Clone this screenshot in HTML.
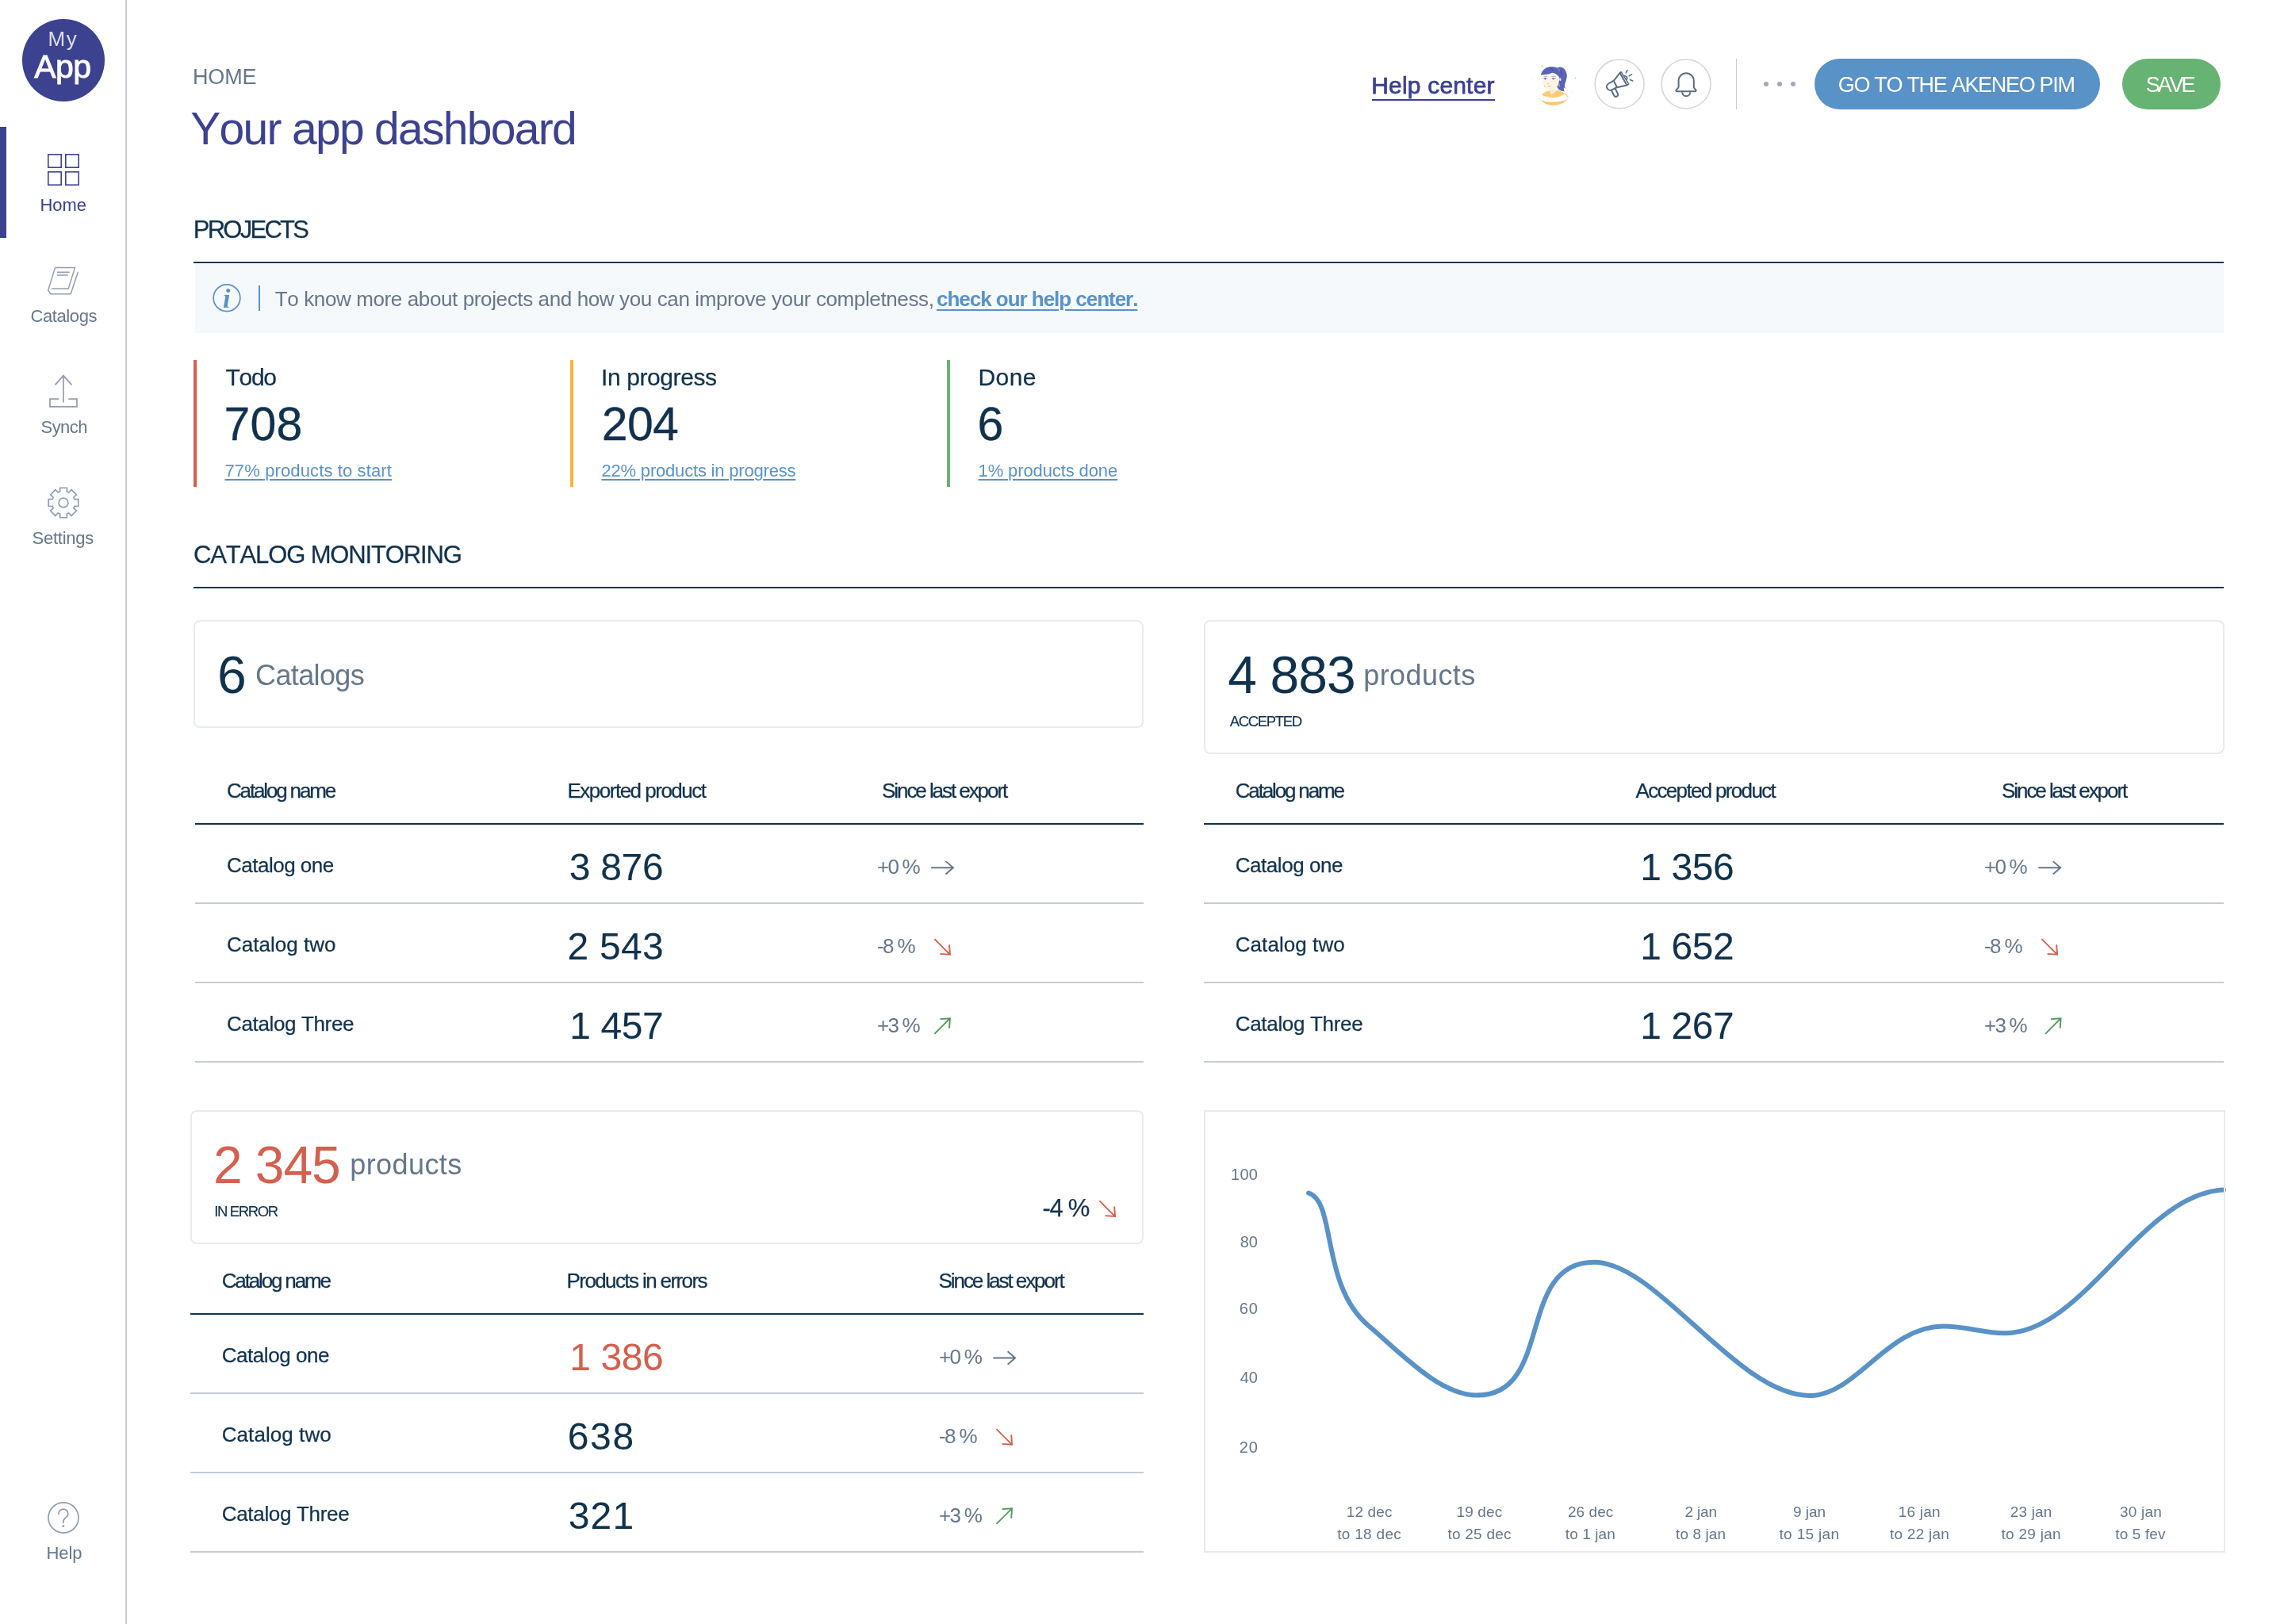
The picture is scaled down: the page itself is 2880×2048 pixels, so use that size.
<!DOCTYPE html>
<html lang="en"><head><meta charset="utf-8"><title>Your app dashboard</title>
<style>
html,body{margin:0;padding:0;background:#fff}
body{width:2880px;height:2048px;position:relative;overflow:hidden;font-family:"Liberation Sans", sans-serif;will-change:transform;}
body>div,body>svg,body>a,body>h1,body>h2{position:absolute;margin:0;font-weight:400}
.t{white-space:pre;font-kerning:none;}
a{color:inherit}
</style></head>
<body>
<svg style="left:0;top:0;overflow:visible" width="10" height="10" fill="none"><path d="M1650 1504.5C1685 1515 1665 1620 1725 1671.25C1765 1705 1815 1759.5 1862.5 1759.5C1960 1759.5 1911 1591.75 2010 1591.75C2090 1591.75 2190 1760 2282.5 1760C2340 1760 2380 1672.5 2450 1672.5C2480 1672.5 2500 1681.25 2527.5 1681.25C2628 1681.25 2700 1505 2804 1500.6" stroke="#5992c7" stroke-width="6" stroke-linecap="round" stroke-linejoin="round"/></svg>
<div style="left:158.4px;top:0px;width:1.6px;height:2048px;background:#c7cbd4;"></div>
<div style="left:0px;top:160px;width:8px;height:140px;background:#3c4190;"></div>
<div style="left:28px;top:24px;width:104px;height:104px;background:#3c4190;border-radius:50%"></div>
<div style="left:244px;top:330px;width:2560px;height:2px;background:#11324d;"></div>
<div style="left:246px;top:333px;width:2558px;height:87px;background:#f5f9fc;"></div>
<div style="left:326.25px;top:360px;width:1.6px;height:32px;background:#5992c7;"></div>
<div style="left:244px;top:740px;width:2560px;height:2px;background:#11324d;"></div>
<div style="left:244px;top:454px;width:4px;height:160px;background:#d4604f;"></div>
<div style="left:719px;top:454px;width:4px;height:160px;background:#f9b53f;"></div>
<div style="left:1194px;top:454px;width:4px;height:160px;background:#67b373;"></div>
<div style="left:244px;top:782px;width:1194px;height:132px;border:2px solid #e8ebee;border-radius:8px"></div>
<div style="left:1518px;top:782px;width:1283px;height:165px;border:2px solid #e8ebee;border-radius:8px"></div>
<div style="left:240px;top:1400px;width:1198px;height:165px;border:2px solid #e8ebee;border-radius:8px"></div>
<div style="left:1518px;top:1400px;width:1284px;height:554px;border:2px solid #e8ebee;border-radius:0px"></div>
<div style="left:246px;top:1038px;width:1196px;height:2px;background:#11324d;"></div>
<div style="left:246px;top:1138px;width:1196px;height:2px;background:#c7cbd4;"></div>
<div style="left:246px;top:1238px;width:1196px;height:2px;background:#c7cbd4;"></div>
<div style="left:246px;top:1338px;width:1196px;height:2px;background:#c7cbd4;"></div>
<div style="left:1518px;top:1038px;width:1286px;height:2px;background:#11324d;"></div>
<div style="left:1518px;top:1138px;width:1286px;height:2px;background:#c7cbd4;"></div>
<div style="left:1518px;top:1238px;width:1286px;height:2px;background:#c7cbd4;"></div>
<div style="left:1518px;top:1338px;width:1286px;height:2px;background:#c7cbd4;"></div>
<div style="left:240px;top:1656px;width:1202px;height:2px;background:#11324d;"></div>
<div style="left:240px;top:1756px;width:1202px;height:2px;background:#c7cbd4;"></div>
<div style="left:240px;top:1856px;width:1202px;height:2px;background:#c7cbd4;"></div>
<div style="left:240px;top:1956px;width:1202px;height:2px;background:#c7cbd4;"></div>
<div style="left:2288px;top:74px;width:360px;height:64px;background:#5992c7;border-radius:32px"></div>
<div style="left:2676px;top:74px;width:124px;height:64px;background:#67b373;border-radius:32px"></div>
<div style="left:2188.5px;top:74px;width:1.6px;height:64px;background:#c7cbd4;"></div>
<div style="left:2224px;top:103px;width:6px;height:6px;background:#a1a9b7;border-radius:50%"></div>
<div style="left:2241px;top:103px;width:6px;height:6px;background:#a1a9b7;border-radius:50%"></div>
<div style="left:2258px;top:103px;width:6px;height:6px;background:#a1a9b7;border-radius:50%"></div>
<div style="left:1730px;top:125px;width:155px;height:1.6px;background:#3c4190;"></div>
<svg style="left:0;top:0;overflow:visible" width="10" height="10" fill="none" stroke="#d3d8e0" stroke-width="1.7"><circle cx="2042.1" cy="105.9" r="30.9"/><circle cx="2126.1" cy="105.9" r="30.9"/></svg>
<svg style="left:60px;top:194px;overflow:visible" width="40" height="40" viewBox="0 0 40 40" fill="none" stroke="#3c4190" stroke-width="1.6"><rect x="0.8" y="0.8" width="16.4" height="16.4"/><rect x="0.8" y="22.8" width="16.4" height="16.4"/><rect x="22.8" y="0.8" width="16.4" height="16.4"/><rect x="22.8" y="22.8" width="16.4" height="16.4"/></svg>
<svg style="left:0px;top:0px;overflow:visible" width="160" height="10" viewBox="0 0 160 10" fill="none" stroke="#939db0" stroke-width="1.5" stroke-linejoin="miter"><path d="M69.5 337.6H94.5L86.2 364.1H65.1M69.5 337.6L60.7 366.1L63.9 370.7H89.2L98.3 343.2M72 343.2H87.7M72 346.9H85.8"/></svg>
<svg style="left:0px;top:0px;overflow:visible" width="160" height="10" viewBox="0 0 160 10" fill="none" stroke="#939db0" stroke-width="1.7"><path d="M69.5 485.4L79.9 473.6L90.5 485.4M79.9 474V507.5M74.1 503.1H63V512.8H97V503.1H86.2"/></svg>
<svg style="left:0px;top:0px;overflow:visible" width="160" height="10" viewBox="0 0 160 10" fill="none" stroke="#939db0" stroke-width="1.7"><path d="M75.69 620.05L75.51 615.23L84.49 615.23L84.31 620.05L86.81 621.09L90.09 617.55L96.45 623.91L92.91 627.19L93.95 629.69L98.77 629.51L98.77 638.49L93.95 638.31L92.91 640.81L96.45 644.09L90.09 650.45L86.81 646.91L84.31 647.95L84.49 652.77L75.51 652.77L75.69 647.95L73.19 646.91L69.91 650.45L63.55 644.09L67.09 640.81L66.05 638.31L61.23 638.49L61.23 629.51L66.05 629.69L67.09 627.19L63.55 623.91L69.91 617.55L73.19 621.09Z" stroke-linejoin="miter"/><circle cx="80" cy="634" r="5.9"/></svg>
<svg style="left:0px;top:0px;overflow:visible" width="160" height="10" viewBox="0 0 160 10" fill="none" stroke="#939db0" stroke-width="1.7"><circle cx="80" cy="1914" r="19.05"/><path d="M73.9 1909.9V1909.2a6 6 0 0 1 12 0c0 3.200-2.600 4.400-4.200 5.800c-1.300 1.100-1.800 2.200-1.800 3.600v2.400"/><circle cx="79.9" cy="1924.5" r="1.4" fill="#939db0" stroke="none"/></svg>
<svg style="left:0px;top:0px;overflow:visible" width="400" height="10" viewBox="0 0 400 10" fill="none" ><circle cx="286" cy="375.8" r="16.85" stroke="#5992c7" stroke-width="1.75"/></svg>
<div class="t" style="left:281px;top:360px;font:italic bold 34px/34px 'Liberation Serif',serif;color:#5992c7">i</div>
<svg style="left:0px;top:0px;overflow:visible" width="10" height="10" viewBox="0 0 10 10" fill="none" stroke="#67768a" stroke-width="1.9"><g transform="translate(1188.1 1094.3) rotate(0)"><path d="M-13.875 0H13.875M4.375 -8.2L13.875 0L4.375 8.2"/></g></svg>
<svg style="left:0px;top:0px;overflow:visible" width="10" height="10" viewBox="0 0 10 10" fill="none" stroke="#d4604f" stroke-width="1.9"><g transform="translate(1188.1 1194) rotate(45)"><path d="M-13.875 0H13.875M4.375 -8.2L13.875 0L4.375 8.2"/></g></svg>
<svg style="left:0px;top:0px;overflow:visible" width="10" height="10" viewBox="0 0 10 10" fill="none" stroke="#4f9a5a" stroke-width="1.9"><g transform="translate(1188.1 1294) rotate(-45)"><path d="M-13.875 0H13.875M4.375 -8.2L13.875 0L4.375 8.2"/></g></svg>
<svg style="left:0px;top:0px;overflow:visible" width="10" height="10" viewBox="0 0 10 10" fill="none" stroke="#67768a" stroke-width="1.9"><g transform="translate(2584.3 1094.3) rotate(0)"><path d="M-13.875 0H13.875M4.375 -8.2L13.875 0L4.375 8.2"/></g></svg>
<svg style="left:0px;top:0px;overflow:visible" width="10" height="10" viewBox="0 0 10 10" fill="none" stroke="#d4604f" stroke-width="1.9"><g transform="translate(2584.3 1194) rotate(45)"><path d="M-13.875 0H13.875M4.375 -8.2L13.875 0L4.375 8.2"/></g></svg>
<svg style="left:0px;top:0px;overflow:visible" width="10" height="10" viewBox="0 0 10 10" fill="none" stroke="#4f9a5a" stroke-width="1.9"><g transform="translate(2588.8 1294) rotate(-45)"><path d="M-13.875 0H13.875M4.375 -8.2L13.875 0L4.375 8.2"/></g></svg>
<svg style="left:0px;top:0px;overflow:visible" width="10" height="10" viewBox="0 0 10 10" fill="none" stroke="#67768a" stroke-width="1.9"><g transform="translate(1266.25 1712.5) rotate(0)"><path d="M-13.875 0H13.875M4.375 -8.2L13.875 0L4.375 8.2"/></g></svg>
<svg style="left:0px;top:0px;overflow:visible" width="10" height="10" viewBox="0 0 10 10" fill="none" stroke="#d4604f" stroke-width="1.9"><g transform="translate(1266.25 1812) rotate(45)"><path d="M-13.875 0H13.875M4.375 -8.2L13.875 0L4.375 8.2"/></g></svg>
<svg style="left:0px;top:0px;overflow:visible" width="10" height="10" viewBox="0 0 10 10" fill="none" stroke="#4f9a5a" stroke-width="1.9"><g transform="translate(1266.25 1912) rotate(-45)"><path d="M-13.875 0H13.875M4.375 -8.2L13.875 0L4.375 8.2"/></g></svg>
<svg style="left:0px;top:0px;overflow:visible" width="10" height="10" viewBox="0 0 10 10" fill="none" stroke="#d4604f" stroke-width="1.9"><g transform="translate(1396.25 1524.25) rotate(45)"><path d="M-13.875 0H13.875M4.375 -8.2L13.875 0L4.375 8.2"/></g></svg>
<svg style="left:0px;top:0px;overflow:visible" width="10" height="10" viewBox="0 0 10 10" fill="none" stroke="#5b6b82" stroke-width="2"><path d="M2116.6 109.8V101.8a9.6 9.6 0 0 1 19.200 0V109.800c0 1.900 2.900 3.100 2.900 4.300c0 .8-.6 1.200-1.400 1.200H2114.700c-.8 0-1.400-.4-1.400-1.200c0-1.200 3.300-2.400 3.300-4.300z" stroke-linejoin="round"/><path d="M2121.2 116.2a5 5 0 0 0 10 0"/></svg>
<svg style="left:0px;top:0px;overflow:visible" width="10" height="10" viewBox="0 0 10 10" fill="none" stroke="#5b6b82" stroke-width="2"><g stroke-linecap="round" stroke-linejoin="round">
<path d="M2034.8 101.800L2042.600 92L2051.400 107.400L2039 110.200z"/>
<path d="M2034.800 101.800l-6.600 3.700a4.400 4.400 0 0 0 4.500 7.600l6.300-2.900"/>
<path d="M2042.600 92l1.600-1.300l9.600 15.500l-2.400 1.200" stroke-width="1.5"/>
<path d="M2031.900 113.800l3.300 6.600a2.600 2.600 0 0 0 4.700-2.300l-3.300-6.600"/>
<path d="M2048.200 96a2.800 2.800 0 0 1 2.800 4.600" stroke-width="1.7"/>
<path d="M2050.400 91.700l1.500-3.100M2054.200 95.700l3.400-1.800M2055.400 100.600l3.300 1.400" stroke-width="1.6"/>
</g></svg>
<svg style="left:0px;top:0px;overflow:visible" width="10" height="10" viewBox="0 0 10 10" fill="none" ><path d="M1945.800 93V106.700C1946 110 1949.500 113.200 1952.500 113.200H1957.500C1961.500 112.500 1965.600 107.500 1965.600 103V93Z" fill="#fef4e4"/>
<path d="M1954.400 112.500H1962.600L1962.300 114C1960.500 116.500 1958 118.500 1956 119C1955 118.800 1954.400 118 1954.400 117Z" fill="#fdebd0"/>
<path d="M1944 119.400C1946.500 116.800 1950 115 1953.600 114.200L1954.400 114C1954.400 116 1954.800 118.500 1956 119C1958.500 118.300 1961 116 1962.700 113.800C1967 114.500 1970.800 116 1973.300 117.900L1971.400 119.400C1967.500 121.800 1962.500 122.900 1957.600 122.900C1952.600 122.900 1947.500 121.700 1944 119.400Z" fill="#fbcb73"/>
<path d="M1941 122.900C1944 128.500 1950.500 132.700 1957.600 132.700C1966 132.700 1974 129.500 1977.100 123.700C1973.500 127.200 1966 128.800 1957.600 128.800C1950 128.800 1945 127.300 1941.300 124.800L1941 122.900Z" fill="#fac565"/>
<path d="M1973.300 117.900C1975.500 119.500 1977 121.500 1977.100 123.700" stroke="#f7c469" stroke-width="1.300" opacity=".65"/>
<path d="M1942.800 94.500C1943.500 91.500 1945.500 88 1948.500 86.200C1952 84.200 1957 84 1961 84.800L1964 85.600C1965.500 84.300 1968 84.200 1970 85.200C1973.500 87 1975.800 91 1975.800 95.500C1975.800 100 1973.500 104 1973 107.500C1972.900 109 1973.200 110.500 1973.900 111.600C1973 111.400 1972.300 110.900 1971.800 110.300C1971.800 112.300 1972 113.800 1972.700 115.400C1970.500 115 1968.500 114.600 1966.500 113.600C1965 112.600 1964 111.200 1963.300 109.600C1964.800 107.600 1965.600 105.500 1965.600 103.500L1966.600 99.600C1966.300 97.500 1965.500 96.200 1964 95C1962 93.300 1959.800 92.200 1957.600 91.800C1953 93.600 1948 94.400 1942.800 94.500Z" fill="#5c61b8"/>
<ellipse cx="1967.300" cy="100.200" rx="1" ry="1.900" fill="#fdebd0"/>
<path d="M1963.100 85.300C1964.800 86.300 1966 87.800 1966.600 89.400" stroke="#6fcfc9" stroke-width=".9"/>
<path d="M1967.600 89.600C1968.800 91.300 1969.600 93.500 1969.800 95.800M1953.600 85.100C1955.800 86 1957.800 87.300 1959.200 89" stroke="#3d4494" stroke-width=".8"/>
<ellipse cx="1948.800" cy="100" rx="2.400" ry="1.300" fill="#fff"/><ellipse cx="1959.600" cy="100" rx="2.600" ry="1.300" fill="#fff"/>
<circle cx="1948.400" cy="99.400" r="1.100" fill="#5b5fb9"/><circle cx="1958.600" cy="99.400" r="1.100" fill="#5b5fb9"/>
<path d="M1946.300 99C1947.500 98.200 1950 98.200 1951.300 99.200M1956.800 99C1958 98.200 1961 98.200 1962.300 99.200" stroke="#5b5fb9" stroke-width=".6"/>
<path d="M1946.500 96.400H1950.600M1956.300 96.500L1962 96.200" stroke="#9d9ed9" stroke-width=".7"/>
<path d="M1950.900 105.400H1953.400" stroke="#cdbcd6" stroke-width=".8"/>
<path d="M1950.100 108.300C1952 109.600 1955 109.900 1956.800 108.800C1955 108 1952 107.800 1950.100 108.300Z" fill="#f9c96b"/>
<path d="M1966 104.400L1967.200 109.500L1965.200 109ZM1947.400 107L1947.900 109.600L1947 109.600Z" fill="#6fcfc9"/>
<path d="M1944.4 81.7L1944.8480000000002 82.852L1946.0 83.3L1944.8480000000002 83.74799999999999L1944.4 84.89999999999999L1943.952 83.74799999999999L1942.8000000000002 83.3L1943.952 82.852Z" fill="#7fd6d0" opacity="1"/><path d="M1986.7 96.89999999999999L1987.092 97.908L1988.1000000000001 98.3L1987.092 98.692L1986.7 99.7L1986.308 98.692L1985.3 98.3L1986.308 97.908Z" fill="#7fd6d0" opacity="1"/><path d="M1932.2 98.3L1932.48 99.02L1933.2 99.3L1932.48 99.58L1932.2 100.3L1931.92 99.58L1931.2 99.3L1931.92 99.02Z" fill="#7fd6d0" opacity="0.35"/><path d="M1939.3 109.8L1939.552 110.44800000000001L1940.2 110.7L1939.552 110.952L1939.3 111.60000000000001L1939.048 110.952L1938.3999999999999 110.7L1939.048 110.44800000000001Z" fill="#7fd6d0" opacity="0.35"/><path d="M1982 115.6L1982.28 116.32L1983 116.6L1982.28 116.88L1982 117.6L1981.72 116.88L1981 116.6L1981.72 116.32Z" fill="#7fd6d0" opacity="0.3"/></svg>
<div class="t" style="left:60.6px;top:36px;font-size:26px;line-height:26px;color:rgba(255,255,255,.82);letter-spacing:1.442px;">My</div>
<div class="t" style="left:43.2px;top:64px;font-size:41px;line-height:41px;color:#ffffff;letter-spacing:-0.574px;-webkit-text-stroke:0.9px #fff;">App</div>
<div class="t" style="left:50.6px;top:248px;font-size:22px;line-height:22px;color:#3c4190;letter-spacing:-0.116px;">Home</div>
<div class="t" style="left:38.4px;top:388px;font-size:22px;line-height:22px;color:#67768a;letter-spacing:-0.39px;">Catalogs</div>
<div class="t" style="left:51.6px;top:528px;font-size:22px;line-height:22px;color:#67768a;letter-spacing:-0.577px;">Synch</div>
<div class="t" style="left:40.6px;top:668px;font-size:22px;line-height:22px;color:#67768a;letter-spacing:-0.256px;">Settings</div>
<div class="t" style="left:58.5px;top:1948px;font-size:22px;line-height:22px;color:#67768a;letter-spacing:-0.07px;">Help</div>
<div class="t" style="left:243px;top:84px;font-size:27px;line-height:27px;color:#67768a;letter-spacing:-0.164px;">HOME</div>
<h1 class="t" style="left:240.25px;top:134px;font-size:57px;line-height:57px;color:#3c4190;letter-spacing:-1.712px;">Your app dashboard</h1>
<a class="t" style="left:1729.25px;top:93px;font-size:30px;line-height:30px;color:#3c4190;letter-spacing:0.183px;-webkit-text-stroke:0.75px #3c4190;">Help center</a>
<div class="t" style="left:2317.75px;top:94px;font-size:27px;line-height:27px;color:#ffffff;letter-spacing:-1.305px;">GO TO THE AKENEO PIM</div>
<div class="t" style="left:2705.75px;top:94px;font-size:27px;line-height:27px;color:#ffffff;letter-spacing:-3.092px;">SAVE</div>
<h2 class="t" style="left:243.75px;top:274px;font-size:31px;line-height:31px;color:#11324d;letter-spacing:-2.74px;-webkit-text-stroke:0.25px #11324d;">PROJECTS</h2>
<div class="t" style="left:346.75px;top:364px;font-size:26px;line-height:26px;color:#67768a;letter-spacing:-0.38px;">To know more about projects and how you can improve your completness,</div>
<a class="t" style="left:1181px;top:364px;font-size:26px;line-height:26px;color:#5992c7;font-weight:700;letter-spacing:-1.027px;text-decoration:underline;text-decoration-thickness:1.7px;text-underline-offset:3.6px;">check our help center.</a>
<div class="t" style="left:284.5px;top:461px;font-size:30px;line-height:30px;color:#11324d;letter-spacing:-1.315px;-webkit-text-stroke:0.25px #11324d;">Todo</div>
<div class="t" style="left:282.5px;top:506px;font-size:59px;line-height:59px;color:#11324d;letter-spacing:0.187px;-webkit-text-stroke:0.3px #11324d;">708</div>
<a class="t" style="left:283.5px;top:583px;font-size:22px;line-height:22px;color:#5992c7;letter-spacing:0.124px;text-decoration:underline;text-decoration-thickness:1.5px;text-underline-offset:3px;">77% products to start</a>
<div class="t" style="left:758px;top:461px;font-size:30px;line-height:30px;color:#11324d;letter-spacing:-0.407px;-webkit-text-stroke:0.25px #11324d;">In progress</div>
<div class="t" style="left:758.75px;top:506px;font-size:59px;line-height:59px;color:#11324d;letter-spacing:-0.688px;-webkit-text-stroke:0.3px #11324d;">204</div>
<a class="t" style="left:758.5px;top:583px;font-size:22px;line-height:22px;color:#5992c7;letter-spacing:-0.194px;text-decoration:underline;text-decoration-thickness:1.5px;text-underline-offset:3px;">22% products in progress</a>
<div class="t" style="left:1233.5px;top:461px;font-size:30px;line-height:30px;color:#11324d;letter-spacing:0.405px;-webkit-text-stroke:0.25px #11324d;">Done</div>
<div class="t" style="left:1232.5px;top:506px;font-size:59px;line-height:59px;color:#11324d;-webkit-text-stroke:0.3px #11324d;">6</div>
<a class="t" style="left:1233.5px;top:583px;font-size:22px;line-height:22px;color:#5992c7;letter-spacing:-0.107px;text-decoration:underline;text-decoration-thickness:1.5px;text-underline-offset:3px;">1% products done</a>
<h2 class="t" style="left:244px;top:684px;font-size:31px;line-height:31px;color:#11324d;letter-spacing:-1.14px;-webkit-text-stroke:0.25px #11324d;">CATALOG MONITORING</h2>
<div class="t" style="left:274px;top:818px;font-size:66px;line-height:66px;color:#11324d;">6</div>
<div class="t" style="left:322px;top:834px;font-size:36px;line-height:36px;color:#67768a;letter-spacing:-0.619px;">Catalogs</div>
<div class="t" style="left:1548.25px;top:818px;font-size:66px;line-height:66px;color:#11324d;letter-spacing:-0.926px;">4 883</div>
<div class="t" style="left:1719.25px;top:834px;font-size:36px;line-height:36px;color:#67768a;letter-spacing:0.418px;">products</div>
<div class="t" style="left:1550.75px;top:901px;font-size:18.5px;line-height:18.5px;color:#11324d;letter-spacing:-1.34px;-webkit-text-stroke:0.15px #11324d;">ACCEPTED</div>
<div class="t" style="left:269px;top:1436px;font-size:66px;line-height:66px;color:#d4604f;letter-spacing:-1.114px;">2 345</div>
<div class="t" style="left:441.25px;top:1451px;font-size:36px;line-height:36px;color:#67768a;letter-spacing:0.418px;">products</div>
<div class="t" style="left:270.25px;top:1519px;font-size:18.5px;line-height:18.5px;color:#11324d;letter-spacing:-1.37px;-webkit-text-stroke:0.15px #11324d;">IN ERROR</div>
<div class="t" style="left:1314.5px;top:1508px;font-size:31px;line-height:31px;color:#11324d;letter-spacing:-1.309px;-webkit-text-stroke:0.25px #11324d;">-4 %</div>
<div class="t" style="left:286px;top:984px;font-size:26px;line-height:26px;color:#11324d;letter-spacing:-2.152px;-webkit-text-stroke:0.25px #11324d;">Catalog name</div>
<div class="t" style="left:715.5px;top:984px;font-size:26px;line-height:26px;color:#11324d;letter-spacing:-1.502px;-webkit-text-stroke:0.25px #11324d;">Exported product</div>
<div class="t" style="left:1112px;top:984px;font-size:26px;line-height:26px;color:#11324d;letter-spacing:-2.061px;-webkit-text-stroke:0.25px #11324d;">Since last export</div>
<div class="t" style="left:286px;top:1078px;font-size:26px;line-height:26px;color:#11324d;letter-spacing:-0.501px;-webkit-text-stroke:0.25px #11324d;">Catalog one</div>
<div class="t" style="left:717.75px;top:1070px;font-size:48px;line-height:48px;color:#11324d;letter-spacing:-0.293px;-webkit-text-stroke:0.05px #11324d;">3 876</div>
<div class="t" style="left:1106px;top:1080px;font-size:26px;line-height:26px;color:#67768a;letter-spacing:-1.789px;">+0 %</div>
<div class="t" style="left:286px;top:1178px;font-size:26px;line-height:26px;color:#11324d;letter-spacing:0.016px;-webkit-text-stroke:0.25px #11324d;">Catalog two</div>
<div class="t" style="left:715.5px;top:1170px;font-size:48px;line-height:48px;color:#11324d;letter-spacing:0.27px;-webkit-text-stroke:0.05px #11324d;">2 543</div>
<div class="t" style="left:1106px;top:1180px;font-size:26px;line-height:26px;color:#67768a;letter-spacing:-1.614px;">-8 %</div>
<div class="t" style="left:286px;top:1278px;font-size:26px;line-height:26px;color:#11324d;letter-spacing:-0.358px;-webkit-text-stroke:0.25px #11324d;">Catalog Three</div>
<div class="t" style="left:718.25px;top:1270px;font-size:48px;line-height:48px;color:#11324d;letter-spacing:-0.418px;-webkit-text-stroke:0.05px #11324d;">1 457</div>
<div class="t" style="left:1106px;top:1280px;font-size:26px;line-height:26px;color:#67768a;letter-spacing:-1.789px;">+3 %</div>
<div class="t" style="left:1557.75px;top:984px;font-size:26px;line-height:26px;color:#11324d;letter-spacing:-2.152px;-webkit-text-stroke:0.25px #11324d;">Catalog name</div>
<div class="t" style="left:2062.5px;top:984px;font-size:26px;line-height:26px;color:#11324d;letter-spacing:-1.675px;-webkit-text-stroke:0.25px #11324d;">Accepted product</div>
<div class="t" style="left:2524px;top:984px;font-size:26px;line-height:26px;color:#11324d;letter-spacing:-2.061px;-webkit-text-stroke:0.25px #11324d;">Since last export</div>
<div class="t" style="left:1557.75px;top:1078px;font-size:26px;line-height:26px;color:#11324d;letter-spacing:-0.451px;-webkit-text-stroke:0.25px #11324d;">Catalog one</div>
<div class="t" style="left:2068.25px;top:1070px;font-size:48px;line-height:48px;color:#11324d;letter-spacing:-0.418px;-webkit-text-stroke:0.05px #11324d;">1 356</div>
<div class="t" style="left:2502px;top:1080px;font-size:26px;line-height:26px;color:#67768a;letter-spacing:-1.789px;">+0 %</div>
<div class="t" style="left:1557.75px;top:1178px;font-size:26px;line-height:26px;color:#11324d;letter-spacing:0.066px;-webkit-text-stroke:0.25px #11324d;">Catalog two</div>
<div class="t" style="left:2068.25px;top:1170px;font-size:48px;line-height:48px;color:#11324d;letter-spacing:-0.418px;-webkit-text-stroke:0.05px #11324d;">1 652</div>
<div class="t" style="left:2502px;top:1180px;font-size:26px;line-height:26px;color:#67768a;letter-spacing:-1.614px;">-8 %</div>
<div class="t" style="left:1557.75px;top:1278px;font-size:26px;line-height:26px;color:#11324d;letter-spacing:-0.317px;-webkit-text-stroke:0.25px #11324d;">Catalog Three</div>
<div class="t" style="left:2068.25px;top:1270px;font-size:48px;line-height:48px;color:#11324d;letter-spacing:-0.418px;-webkit-text-stroke:0.05px #11324d;">1 267</div>
<div class="t" style="left:2502px;top:1280px;font-size:26px;line-height:26px;color:#67768a;letter-spacing:-1.789px;">+3 %</div>
<div class="t" style="left:279.75px;top:1602px;font-size:26px;line-height:26px;color:#11324d;letter-spacing:-2.152px;-webkit-text-stroke:0.25px #11324d;">Catalog name</div>
<div class="t" style="left:714.6px;top:1602px;font-size:26px;line-height:26px;color:#11324d;letter-spacing:-1.605px;-webkit-text-stroke:0.25px #11324d;">Products in errors</div>
<div class="t" style="left:1183.5px;top:1602px;font-size:26px;line-height:26px;color:#11324d;letter-spacing:-2.061px;-webkit-text-stroke:0.25px #11324d;">Since last export</div>
<div class="t" style="left:279.75px;top:1696px;font-size:26px;line-height:26px;color:#11324d;letter-spacing:-0.451px;-webkit-text-stroke:0.25px #11324d;">Catalog one</div>
<div class="t" style="left:718.25px;top:1688px;font-size:48px;line-height:48px;color:#d4604f;letter-spacing:-0.418px;-webkit-text-stroke:0.05px #d4604f;">1 386</div>
<div class="t" style="left:1184px;top:1698px;font-size:26px;line-height:26px;color:#67768a;letter-spacing:-1.706px;">+0 %</div>
<div class="t" style="left:279.75px;top:1796px;font-size:26px;line-height:26px;color:#11324d;letter-spacing:0.066px;-webkit-text-stroke:0.25px #11324d;">Catalog two</div>
<div class="t" style="left:715.8px;top:1788px;font-size:48px;line-height:48px;color:#11324d;letter-spacing:1.605px;-webkit-text-stroke:0.05px #11324d;">638</div>
<div class="t" style="left:1184px;top:1798px;font-size:26px;line-height:26px;color:#67768a;letter-spacing:-1.614px;">-8 %</div>
<div class="t" style="left:279.75px;top:1896px;font-size:26px;line-height:26px;color:#11324d;letter-spacing:-0.317px;-webkit-text-stroke:0.25px #11324d;">Catalog Three</div>
<div class="t" style="left:716.8px;top:1888px;font-size:48px;line-height:48px;color:#11324d;letter-spacing:1.105px;-webkit-text-stroke:0.05px #11324d;">321</div>
<div class="t" style="left:1184px;top:1898px;font-size:26px;line-height:26px;color:#67768a;letter-spacing:-1.706px;">+3 %</div>
<div class="t" style="left:1552.1px;top:1471px;font-size:20px;line-height:20px;color:#67768a;letter-spacing:0.227px;">100</div>
<div class="t" style="left:1563.7px;top:1556px;font-size:20px;line-height:20px;color:#67768a;letter-spacing:-0.023px;">80</div>
<div class="t" style="left:1562.7px;top:1640px;font-size:20px;line-height:20px;color:#67768a;letter-spacing:0.977px;">60</div>
<div class="t" style="left:1563.7px;top:1727px;font-size:20px;line-height:20px;color:#67768a;letter-spacing:-0.023px;">40</div>
<div class="t" style="left:1562.7px;top:1815px;font-size:20px;line-height:20px;color:#67768a;letter-spacing:0.977px;">20</div>
<div class="t" style="left:1697.75px;top:1897px;font-size:19px;line-height:19px;color:#67768a;letter-spacing:0.141px;">12 dec</div>
<div class="t" style="left:1686.25px;top:1925px;font-size:19px;line-height:19px;color:#67768a;letter-spacing:0.291px;">to 18 dec</div>
<div class="t" style="left:1836.5px;top:1897px;font-size:19px;line-height:19px;color:#67768a;letter-spacing:0.141px;">19 dec</div>
<div class="t" style="left:1825.5px;top:1925px;font-size:19px;line-height:19px;color:#67768a;letter-spacing:0.229px;">to 25 dec</div>
<div class="t" style="left:1977px;top:1897px;font-size:19px;line-height:19px;color:#67768a;letter-spacing:0.041px;">26 dec</div>
<div class="t" style="left:1973.75px;top:1925px;font-size:19px;line-height:19px;color:#67768a;letter-spacing:0.106px;">to 1 jan</div>
<div class="t" style="left:2124.5px;top:1897px;font-size:19px;line-height:19px;color:#67768a;letter-spacing:-0.158px;">2 jan</div>
<div class="t" style="left:2113px;top:1925px;font-size:19px;line-height:19px;color:#67768a;letter-spacing:0.106px;">to 8 jan</div>
<div class="t" style="left:2261px;top:1897px;font-size:19px;line-height:19px;color:#67768a;letter-spacing:-0.033px;">9 jan</div>
<div class="t" style="left:2243.5px;top:1925px;font-size:19px;line-height:19px;color:#67768a;letter-spacing:0.334px;">to 15 jan</div>
<div class="t" style="left:2393.75px;top:1897px;font-size:19px;line-height:19px;color:#67768a;letter-spacing:0.21px;">16 jan</div>
<div class="t" style="left:2383px;top:1925px;font-size:19px;line-height:19px;color:#67768a;letter-spacing:0.241px;">to 22 jan</div>
<div class="t" style="left:2534.75px;top:1897px;font-size:19px;line-height:19px;color:#67768a;letter-spacing:0.16px;">23 jan</div>
<div class="t" style="left:2523.5px;top:1925px;font-size:19px;line-height:19px;color:#67768a;letter-spacing:0.272px;">to 29 jan</div>
<div class="t" style="left:2673px;top:1897px;font-size:19px;line-height:19px;color:#67768a;letter-spacing:0.21px;">30 jan</div>
<div class="t" style="left:2667.25px;top:1925px;font-size:19px;line-height:19px;color:#67768a;letter-spacing:0.133px;">to 5 fev</div>
<script>(function(){var w=window.innerWidth;if(w&&Math.abs(w-2880)>1){document.body.style.zoom=w/2880;}})();</script>
</body></html>
